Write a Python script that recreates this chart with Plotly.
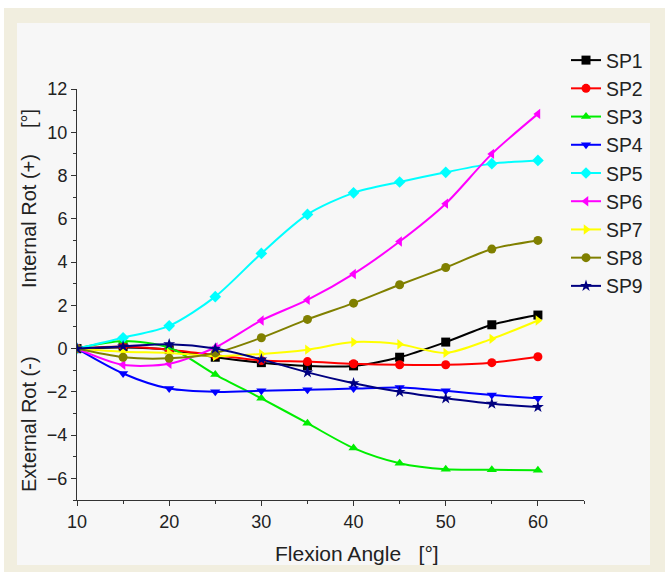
import plotly.graph_objects as go

flexion = [10, 15, 20, 25, 30, 35, 40, 45, 50, 55, 60]
names = ["SP1", "SP2", "SP3", "SP4", "SP5", "SP6", "SP7", "SP8", "SP9"]
sp1 = [0, 0.05, -0.05, -0.4, -0.65, -0.8, -0.8, -0.4, 0.3, 1.1, 1.55]
sp2 = [0, 0.1, -0.05, -0.3, -0.55, -0.6, -0.7, -0.75, -0.75, -0.65, -0.38]
sp3 = [0, 0.35, 0.05, -1.2, -2.3, -3.45, -4.6, -5.3, -5.58, -5.6, -5.63]
sp4 = [0, -1.15, -1.85, -2.0, -1.95, -1.9, -1.85, -1.8, -1.95, -2.15, -2.3]
sp5 = [0, 0.5, 1.05, 2.4, 4.4, 6.2, 7.2, 7.7, 8.15, 8.55, 8.7]
sp6 = [0, -0.75, -0.7, 0.05, 1.3, 2.25, 3.45, 4.95, 6.7, 9.0, 10.85]
sp7 = [0, -0.15, -0.2, -0.35, -0.25, -0.05, 0.3, 0.2, -0.2, 0.45, 1.3]
sp8 = [0, -0.4, -0.45, -0.2, 0.5, 1.35, 2.1, 2.95, 3.75, 4.6, 5.0]
sp9 = [0, 0.1, 0.2, 0.0, -0.5, -1.1, -1.6, -2.0, -2.3, -2.55, -2.7]
series = [sp1, sp2, sp3, sp4, sp5, sp6, sp7, sp8, sp9]

colors = ["#000000", "#ff0000", "#00ee00", "#0000ff", "#00ffff",
          "#ff00ff", "#ffff00", "#808000", "#000080"]
symbols = ["square", "circle", "triangle-up", "triangle-down", "diamond",
           "triangle-left", "triangle-right", "circle", "star"]

fig = go.Figure()
for i, (nm, ys) in enumerate(zip(names, series)):
    fig.add_trace(go.Scatter(
        x=flexion, y=ys, name=nm, mode="lines+markers",
        line=dict(color=colors[i], width=2, shape="spline", smoothing=0.8),
        marker=dict(symbol=symbols[i], color=colors[i], size=9),
    ))

W, H = 665, 572
L, T, R, B = 77, 89, 584, 500
pw, ph = R - L, B - T

def px(x):
    return (x - L) / pw

def py(y):
    return (B - y) / ph

fig.add_shape(type="rect", xref="paper", yref="paper",
              x0=px(4), x1=px(666), y0=py(573), y1=py(8),
              fillcolor="#f1eedf", line_width=0, layer="below")
fig.add_shape(type="rect", xref="paper", yref="paper",
              x0=px(17), x1=px(650), y0=py(565), y1=py(23),
              fillcolor="#f7f7f7", line_width=0, layer="below")

txt = "#222222"
fig.add_annotation(xref="paper", yref="paper", x=px(273), y=py(553),
                   xanchor="left", yanchor="middle", showarrow=False,
                   text="Flexion Angle   [°]", font=dict(size=21, color=txt))
fig.add_annotation(xref="paper", yref="paper", x=px(29), y=py(424),
                   xanchor="center", yanchor="middle", showarrow=False, textangle=-90,
                   text="External Rot (-)", font=dict(size=20, color=txt))
fig.add_annotation(xref="paper", yref="paper", x=px(29), y=py(221),
                   xanchor="center", yanchor="middle", showarrow=False, textangle=-90,
                   text="Internal Rot (+)", font=dict(size=20, color=txt))
fig.add_annotation(xref="paper", yref="paper", x=px(29), y=py(119),
                   xanchor="center", yanchor="middle", showarrow=False, textangle=-90,
                   text="[°]", font=dict(size=20, color=txt))

font = "Liberation Sans, Arial, sans-serif"
fig.update_layout(
    width=W, height=H,
    margin=dict(l=L, r=W - R, t=T, b=H - B),
    paper_bgcolor="#ffffff", plot_bgcolor="#f7f7f7",
    font=dict(family=font, size=18, color=txt),
    showlegend=True,
    legend=dict(x=px(566), y=py(41), xanchor="left", yanchor="top",
                bgcolor="rgba(0,0,0,0)", font=dict(size=19.4, color=txt),
                itemwidth=30),
    xaxis=dict(range=[10, 65], tick0=10, dtick=10, showgrid=False, zeroline=False,
               showline=True, linecolor="#333333", linewidth=1,
               ticks="outside", ticklen=5, tickcolor="#333333",
               minor=dict(dtick=5, ticks="outside", ticklen=3, tickcolor="#333333"),
               tickfont=dict(size=18)),
    yaxis=dict(range=[-7, 12], tick0=0, dtick=2, showgrid=False, zeroline=False,
               showline=True, linecolor="#333333", linewidth=1,
               ticks="outside", ticklen=5, tickcolor="#333333",
               minor=dict(dtick=1, ticks="outside", ticklen=3, tickcolor="#333333"),
               tickfont=dict(size=18)),
)

fig.write_html("out.html", config={"displayModeBar": False},
               post_script="document.body.style.margin='0px';")
